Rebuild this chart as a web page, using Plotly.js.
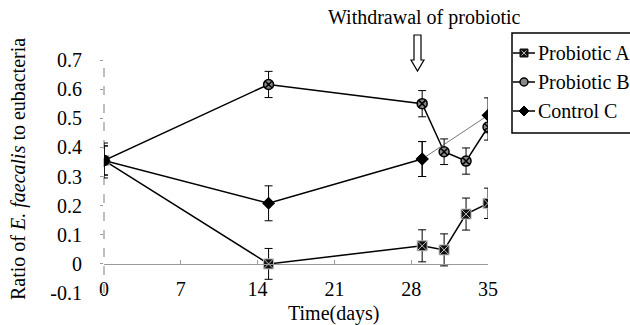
<!DOCTYPE html>
<html>
<head>
<meta charset="utf-8">
<script src="https://cdn.plot.ly/plotly-3.0.1.min.js"></script>
<style>html,body{margin:0;padding:0;background:#fff;overflow:hidden}#chart{width:630px;height:325px}</style>
</head>
<body>
<div id="chart"></div>
<script>
// ---- data ----
const seriesNames = ["Probiotic A", "Probiotic B", "Control C"];
const daysA = [0, 15, 29, 31, 33, 35];
const valuesA = [0.355, 0.0, 0.062, 0.048, 0.171, 0.208];
const errorsA = [0.05, 0.053, 0.055, 0.055, 0.055, 0.052];
const daysB = [0, 15, 29, 31, 33, 35];
const valuesB = [0.355, 0.616, 0.55, 0.385, 0.353, 0.47];
const errorsB = [0.05, 0.045, 0.045, 0.044, 0.045, 0.045];
const daysC = [0, 15, 29, 35];
const valuesC = [0.355, 0.208, 0.36, 0.51];
const errorsC = [0.06, 0.06, 0.06, 0.06];
const xTicks = [0, 7, 14, 21, 28, 35];
const yTicks = [-0.1, 0, 0.1, 0.2, 0.3, 0.4, 0.5, 0.6, 0.7];
const yTickText = ["-0.1", "0", "0.1", "0.2", "0.3", "0.4", "0.5", "0.6", "0.7"];
const annotationText = "Withdrawal of probiotic";
const xTitle = "Time(days)";
const yTitle = "Ratio of <i>E. faecalis</i> to eubacteria";

// ---- layout helpers ----
const W = 630, H = 325;
const M = {l: 104, r: 142, t: 60, b: 32};
const pw = W - M.l - M.r, ph = H - M.t - M.b;
const px2x = p => (p - M.l) / pw;
const py2y = p => (H - M.b - p) / ph;
const FONT = "Liberation Serif";

const err = a => ({type: "data", array: a, visible: true, color: "#000", thickness: 1, width: 4});

const markerA = {symbol: "square-x", size: 10, color: "#111", line: {color: "#bbb", width: 1}};
const markerB = {symbol: "circle-x", size: 10, color: "#888", line: {color: "#000", width: 1.5}};
const markerC = {symbol: "diamond", size: 10, color: "#000"};

const traces = [
  {x: daysA, y: valuesA, name: seriesNames[0], mode: "lines+markers", error_y: err(errorsA),
   line: {color: "#000", width: 1.5}, marker: markerA},
  {x: daysB, y: valuesB, name: seriesNames[1], mode: "lines+markers", error_y: err(errorsB),
   line: {color: "#000", width: 1.5}, marker: markerB},
  {x: daysC.slice(0, 3), y: valuesC.slice(0, 3), name: seriesNames[2], mode: "lines+markers",
   error_y: err(errorsC.slice(0, 3)), line: {color: "#000", width: 1.5}, marker: markerC},
  {x: daysC.slice(2), y: valuesC.slice(2), name: seriesNames[2], mode: "lines+markers",
   error_y: err(errorsC.slice(2)), line: {color: "#555", width: 0.8}, marker: markerC}
];

// hollow down arrow (pixel geometry -> paper)
const ax = 417.5;
const arrowPts = [[ax-3.5,35],[ax+3.5,35],[ax+3.5,60],[ax+6.5,60],[ax,71],[ax-6.5,60],[ax-3.5,60]];
const pathFrom = pts => "M" + pts.map(p => px2x(p[0]).toFixed(4) + "," + py2y(p[1]).toFixed(4)).join(" L");

// manual legend (box clipped by the page edge as in the reference)
const legX0 = 512, legY0 = 33, legY1 = 133;
const legRows = [53, 82, 111];
const legLineX0 = 513, legLineX1 = 535, legMX = 524, legTextX = 536;
const shapes = [
  {type: "line", xref: "paper", yref: "paper", x0: 0, x1: 0, y0: 0, y1: 1,
   line: {color: "#aaa", width: 1.5, dash: "dash"}, layer: "below"},
  {type: "path", xref: "paper", yref: "paper", path: pathFrom(arrowPts) + " Z",
   line: {color: "#000", width: 1.2}, fillcolor: "#fff"},
  {type: "rect", xref: "paper", yref: "paper", x0: px2x(legX0), x1: px2x(660),
   y0: py2y(legY1), y1: py2y(legY0), line: {color: "#000", width: 1.5}, fillcolor: "rgba(0,0,0,0)"}
];
const annotations = [
  {text: annotationText, xref: "paper", yref: "paper", x: px2x(424), y: py2y(18),
   xanchor: "center", yanchor: "middle", showarrow: false},
  {text: xTitle, xref: "paper", yref: "paper", x: px2x(333), y: py2y(313),
   xanchor: "center", yanchor: "middle", showarrow: false},
  {text: yTitle, xref: "paper", yref: "paper", x: px2x(18), y: py2y(169), textangle: -90,
   xanchor: "center", yanchor: "middle", showarrow: false}
];
legRows.forEach((ry, i) => {
  shapes.push({type: "line", xref: "paper", yref: "paper", x0: px2x(legLineX0), x1: px2x(legLineX1),
               y0: py2y(ry), y1: py2y(ry), line: {color: "#000", width: 1.5}});
  const s = 4;
  if (i === 0) {
    shapes.push({type: "rect", xref: "paper", yref: "paper", x0: px2x(legMX - s), x1: px2x(legMX + s),
                 y0: py2y(ry + s), y1: py2y(ry - s), fillcolor: "#111", line: {color: "#111", width: 1}});
    shapes.push({type: "path", xref: "paper", yref: "paper",
                 path: pathFrom([[legMX-2.5, ry-2.5],[legMX+2.5, ry+2.5]]) + " " + pathFrom([[legMX-2.5, ry+2.5],[legMX+2.5, ry-2.5]]),
                 line: {color: "#bbb", width: 1}});
  } else if (i === 1) {
    shapes.push({type: "circle", xref: "paper", yref: "paper", x0: px2x(legMX - s), x1: px2x(legMX + s),
                 y0: py2y(ry + s), y1: py2y(ry - s), fillcolor: "#888", line: {color: "#000", width: 1.5}});
  } else {
    shapes.push({type: "path", xref: "paper", yref: "paper",
                 path: pathFrom([[legMX - 5, ry],[legMX, ry - 5],[legMX + 5, ry],[legMX, ry + 5]]) + " Z",
                 fillcolor: "#000", line: {color: "#000", width: 1}});
  }
  annotations.push({text: seriesNames[i], xref: "paper", yref: "paper", x: px2x(legTextX), y: py2y(ry),
                    xanchor: "left", yanchor: "middle", showarrow: false});
});

const layout = {
  width: W, height: H,
  margin: M,
  paper_bgcolor: "#fff", plot_bgcolor: "#fff",
  font: {family: FONT, size: 20, color: "#000"},
  showlegend: false,
  xaxis: {range: [0, 35], tickvals: xTicks, ticktext: xTicks.map(String),
          anchor: "free", position: (0 - (-0.1)) / 0.8,
          showline: true, linecolor: "#999", linewidth: 1,
          ticks: "inside", ticklen: 4, tickcolor: "#999",
          showgrid: false, zeroline: false, ticklabelstandoff: 7,
          tickfont: {family: FONT, size: 20}},
  yaxis: {range: [-0.1, 0.7], tickvals: yTicks, ticktext: yTickText,
          showline: false, ticks: "outside", ticklen: 3, tickcolor: "#999",
          showgrid: false, zeroline: false, ticklabelstandoff: 14,
          tickfont: {family: FONT, size: 20}},
  shapes: shapes,
  annotations: annotations
};

Plotly.newPlot("chart", traces, layout, {staticPlot: true, displayModeBar: false});
</script>
</body>
</html>
